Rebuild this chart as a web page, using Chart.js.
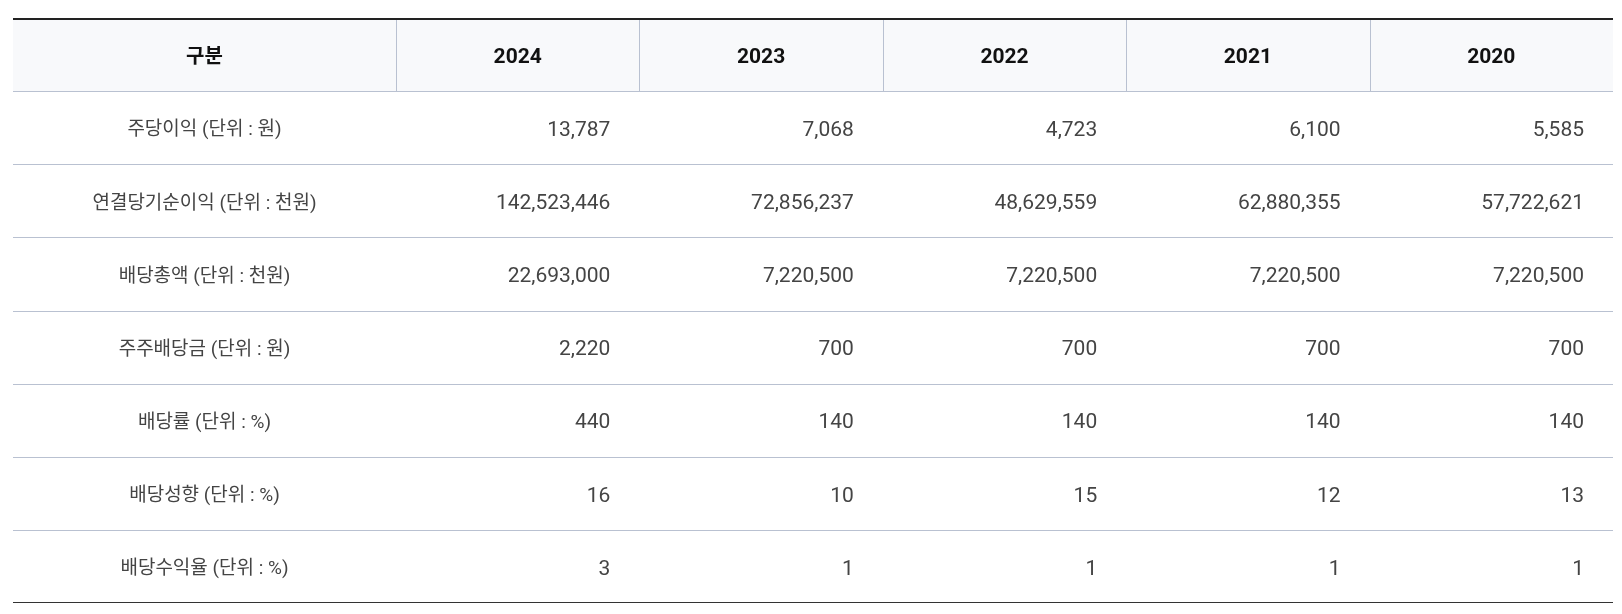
<!DOCTYPE html>
<html lang="ko">
<head>
<meta charset="utf-8">
<title>배당 현황</title>
<script src="https://cdn.jsdelivr.net/npm/chart.js@4"></script>
<style>
  html, body { margin: 0; padding: 0; background: #fff; }
  #wrap { width: 1622px; height: 614px; }
</style>
</head>
<body>
<div id="wrap"><canvas id="table" width="1622" height="614"></canvas></div>
<script>
const headLabel = '구분';
const years = ['2024', '2023', '2022', '2021', '2020'];
const rowLabels = [
	'주당이익 (단위 : 원)',
	'연결당기순이익 (단위 : 천원)',
	'배당총액 (단위 : 천원)',
	'주주배당금 (단위 : 원)',
	'배당률 (단위 : %)',
	'배당성향 (단위 : %)',
	'배당수익율 (단위 : %)'
];
const eps = [13787, 7068, 4723, 6100, 5585];
const netIncome = [142523446, 72856237, 48629559, 62880355, 57722621];
const totalDividend = [22693000, 7220500, 7220500, 7220500, 7220500];
const dividendPerShare = [2220, 700, 700, 700, 700];
const dividendRate = [440, 140, 140, 140, 140];
const payoutRatio = [16, 10, 15, 12, 13];
const dividendYield = [3, 1, 1, 1, 1];

const rows = [eps, netIncome, totalDividend, dividendPerShare, dividendRate, payoutRatio, dividendYield];

// first column is wider than the year columns (in year-column units)
const labelSpan = 383 / 243.4;
const totalSpan = labelSpan + years.length;
const fontFamily = 'Roboto, "Noto Sans CJK KR", sans-serif';

const tablePlugin = {
	id: 'tableText',
	afterDatasetsDraw(chart) {
		const ctx = chart.ctx;
		const xs = chart.scales.x;
		const ys = chart.scales.y;
		const area = chart.chartArea;
		const bandEdge = i => (ys.getPixelForValue(i - 1) + ys.getPixelForValue(i)) / 2;
		const headBottom = Math.round(bandEdge(1)) + 0.5;

		ctx.save();
		// header column separators
		ctx.strokeStyle = '#b9c1d1';
		ctx.lineWidth = 1;
		years.forEach((y, i) => {
			const x = Math.round(xs.getPixelForValue(labelSpan + i)) + 0.5;
			ctx.beginPath();
			ctx.moveTo(x, area.top + 2);
			ctx.lineTo(x, headBottom);
			ctx.stroke();
		});
		// row lines
		for (let i = 1; i <= rowLabels.length; i++) {
			const y = Math.round(bandEdge(i)) + 0.5;
			ctx.beginPath();
			ctx.moveTo(area.left, y);
			ctx.lineTo(area.right, y);
			ctx.stroke();
		}
		// top and bottom borders
		ctx.strokeStyle = '#222';
		ctx.lineWidth = 2;
		ctx.beginPath();
		ctx.moveTo(area.left, area.top + 1);
		ctx.lineTo(area.right, area.top + 1);
		ctx.stroke();
		ctx.strokeStyle = '#333';
		ctx.lineWidth = 1;
		ctx.beginPath();
		ctx.moveTo(area.left, area.bottom - 0.5);
		ctx.lineTo(area.right, area.bottom - 0.5);
		ctx.stroke();

		// header text
		ctx.textBaseline = 'middle';
		ctx.textAlign = 'center';
		ctx.fillStyle = '#111';
		ctx.font = 'bold 20px ' + fontFamily;
		const headY = ys.getPixelForValue(0) + 3;
		ctx.fillText(headLabel, xs.getPixelForValue(labelSpan / 2), headY);
		ctx.font = 'bold 21px ' + fontFamily;
		years.forEach((y, i) => {
			ctx.fillText(y, xs.getPixelForValue(labelSpan + i + 0.5), headY);
		});

		// body text
		ctx.fillStyle = '#444';
		rowLabels.forEach((label, r) => {
			const cy = ys.getPixelForValue(r + 1) + 3;
			ctx.font = '19px ' + fontFamily;
			ctx.textAlign = 'center';
			ctx.fillText(label, xs.getPixelForValue(labelSpan / 2), cy);
			ctx.font = '21px ' + fontFamily;
			ctx.textAlign = 'right';
			rows[r].forEach((v, i) => {
				ctx.fillText(v.toLocaleString('en-US'), xs.getPixelForValue(labelSpan + i + 1) - 29, cy);
			});
		});
		ctx.restore();
	}
};

new Chart(document.getElementById('table'), {
	type: 'bar',
	data: {
		labels: [headLabel, ...rowLabels],
		datasets: [{
			label: 'header',
			data: [[0, totalSpan], ...rowLabels.map(() => null)],
			backgroundColor: '#f8f9fb',
			borderWidth: 0,
			barPercentage: 1,
			categoryPercentage: 1
		}]
	},
	options: {
		indexAxis: 'y',
		responsive: false,
		animation: false,
		devicePixelRatio: 1,
		layout: { padding: { top: 18, bottom: 11, left: 13, right: 9 } },
		plugins: { legend: { display: false }, tooltip: { enabled: false } },
		scales: {
			x: { type: 'linear', min: 0, max: totalSpan, display: false },
			y: { type: 'category', display: false, offset: true }
		}
	},
	plugins: [tablePlugin]
});
</script>
</body>
</html>
